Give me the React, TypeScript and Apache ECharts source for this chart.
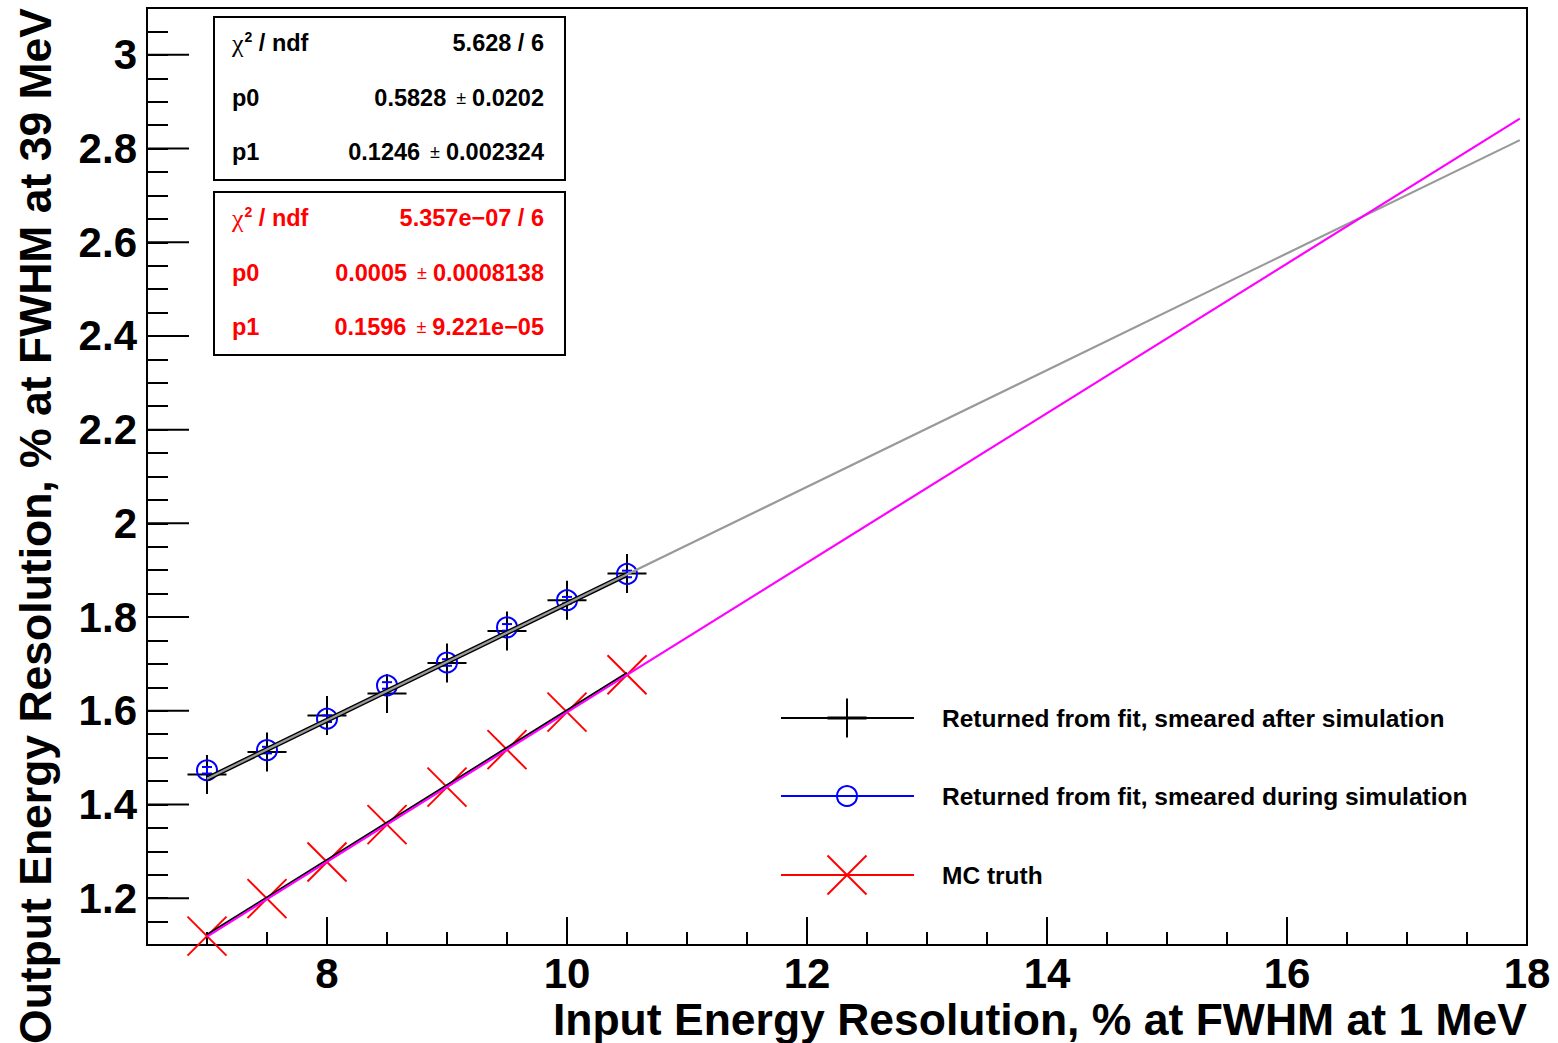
import React, { useEffect, useRef } from "react";
import * as echarts from "echarts";

// ---- axis ranges & ticks ----
const X_MIN = 6.5;
const X_MAX = 18;
const Y_MIN = 1.1;
const Y_MAX = 3.1;
const xTickLabels = [8, 10, 12, 14, 16, 18];
const yTickLabels = [1.2, 1.4, 1.6, 1.8, 2, 2.2, 2.4, 2.6, 2.8, 3];

// ---- data ----
const xInput = [7, 7.5, 8, 8.5, 9, 9.5, 10, 10.5];
const yAfter = [1.464, 1.512, 1.59, 1.637, 1.702, 1.77, 1.836, 1.893];
const yDuring = [1.473, 1.516, 1.583, 1.654, 1.703, 1.778, 1.836, 1.892];
const yDuringErr = [0.007, 0.007, 0.007, 0.007, 0.007, 0.007, 0.007, 0.007];
const yTruth = [1.119, 1.199, 1.277, 1.357, 1.437, 1.517, 1.597, 1.677];

// fit lines (end points)
const fitAfterX = [7, 17.94];
const fitAfterY = [1.455, 2.818];
const fitAfterShortX = [7, 10.5];
const fitAfterShortY = [1.455, 1.891];
const fitTruthX = [7, 17.94];
const fitTruthY = [1.118, 2.864];
const fitTruthShortX = [7, 10.5];
const fitTruthShortY = [1.122, 1.681];

// stats boxes
const statsBlack = [
  ["χ2 / ndf", "5.628 / 6", ""],
  ["p0", "0.5828", "0.0202"],
  ["p1", "0.1246", "0.002324"],
];
const statsRed = [
  ["χ2 / ndf", "5.357e−07 / 6", ""],
  ["p0", "0.0005", "0.0008138"],
  ["p1", "0.1596", "9.221e−05"],
];

const legendLabels = [
  "Returned from fit, smeared after simulation",
  "Returned from fit, smeared during simulation",
  "MC truth",
];

const FONT = "Liberation Sans";

const pairs = (xs: number[], ys: number[]) => xs.map((x, i) => [x, ys[i]]);

function statsBox(rows: string[][], top: number, color: string) {
  const left = 214;
  const w = 351;
  const h = 163;
  const children: any[] = [
    {
      type: "rect",
      shape: { x: left, y: top, width: w, height: h },
      style: { fill: "#fff", stroke: "#000", lineWidth: 2 },
    },
  ];
  const rowH = h / 3;
  const rich = {
    c: { fontFamily: "Liberation Serif", fontSize: 26, fill: color, color },
    s: { fontFamily: FONT, fontWeight: "bold", fontSize: 14, fill: color, color, verticalAlign: "top", padding: [0, 0, 0, 1] },
    b: { fontFamily: FONT, fontWeight: "bold", fontSize: 23.5, fill: color, color },
    pm: { fontFamily: FONT, fontSize: 18, fill: color, color, padding: [0, 6, 0, 10] },
  };
  rows.forEach((r, i) => {
    const cy = top + rowH * i + rowH / 2 - 1;
    const labelText = r[0].startsWith("χ2")
      ? "{c|χ}{s|2}{b|" + r[0].slice(2) + "}"
      : "{b|" + r[0] + "}";
    children.push({
      type: "text",
      x: left + 18,
      y: cy,
      style: { text: labelText, rich, align: "left", verticalAlign: "middle" },
    });
    const valText = r[2] ? "{b|" + r[1] + "}{pm|±}{b|" + r[2] + "}" : "{b|" + r[1] + "}";
    children.push({
      type: "text",
      x: left + w - 21,
      y: cy,
      style: { text: valText, rich, align: "right", verticalAlign: "middle" },
    });
  });
  return { type: "group", children };
}

function legendGraphics() {
  const rows = [718, 796, 875];
  const x1 = 781;
  const x2 = 914;
  const mx = 847;
  const h = 19.5;
  const els: any[] = [];
  // black
  els.push({ type: "line", shape: { x1, y1: rows[0], x2, y2: rows[0] }, style: { stroke: "#000", lineWidth: 2 } });
  els.push({ type: "line", shape: { x1: mx - h, y1: rows[0], x2: mx + h, y2: rows[0] }, style: { stroke: "#000", lineWidth: 3 } });
  els.push({ type: "line", shape: { x1: mx, y1: rows[0] - h, x2: mx, y2: rows[0] + h }, style: { stroke: "#000", lineWidth: 2 } });
  // blue
  els.push({ type: "line", shape: { x1, y1: rows[1], x2, y2: rows[1] }, style: { stroke: "#0000ff", lineWidth: 2 } });
  els.push({ type: "circle", shape: { cx: mx, cy: rows[1], r: 10 }, style: { fill: "none", stroke: "#0000ff", lineWidth: 2 } });
  // red
  els.push({ type: "line", shape: { x1, y1: rows[2], x2, y2: rows[2] }, style: { stroke: "#ff0000", lineWidth: 2 } });
  els.push({ type: "line", shape: { x1: mx - h, y1: rows[2] - h, x2: mx + h, y2: rows[2] + h }, style: { stroke: "#ff0000", lineWidth: 2 } });
  els.push({ type: "line", shape: { x1: mx - h, y1: rows[2] + h, x2: mx + h, y2: rows[2] - h }, style: { stroke: "#ff0000", lineWidth: 2 } });
  legendLabels.forEach((t, i) => {
    els.push({
      type: "text",
      x: 942,
      y: rows[i],
      style: { text: t, fontFamily: FONT, fontWeight: "bold", fontSize: 24.5, fill: "#000", align: "left", verticalAlign: "middle" },
    });
  });
  return { type: "group", children: els };
}

function isIn(v: number, arr: number[]) {
  return arr.some((a) => Math.abs(a - v) < 1e-6);
}

export default function App() {
  const ref = useRef<HTMLDivElement>(null);
  useEffect(() => {
    document.body.style.margin = "0";
    const chart = echarts.init(ref.current!, null, { renderer: "svg" });
    const axisFont = { fontFamily: FONT, fontWeight: "bold" as const, fontSize: 42, color: "#000" };
    const option: any = {
      animation: false,
      backgroundColor: "#fff",
      grid: {
        left: 147,
        right: 31,
        top: 8,
        bottom: 98,
        show: true,
        borderColor: "#000",
        borderWidth: 2,
        backgroundColor: "transparent",
      },
      xAxis: {
        type: "value",
        min: X_MIN,
        max: X_MAX,
        interval: 0.5,
        axisLine: { show: true, lineStyle: { color: "#000", width: 2 } },
        axisTick: { show: true, inside: true, length: 13, lineStyle: { color: "#000", width: 2 } },
        axisLabel: {
          ...axisFont,
          margin: 7,
          formatter: (v: number) => (isIn(v, xTickLabels) ? String(v) : ""),
        },
        splitLine: { show: false },
      },
      yAxis: {
        type: "value",
        min: Y_MIN,
        max: Y_MAX,
        interval: 0.05,
        axisLine: { show: true, lineStyle: { color: "#000", width: 2 } },
        axisTick: { show: true, inside: true, length: 21, lineStyle: { color: "#000", width: 2 } },
        axisLabel: {
          ...axisFont,
          margin: 10,
          formatter: (v: number) => (isIn(v, yTickLabels) ? String(Math.round(v * 10) / 10) : ""),
        },
        splitLine: { show: false },
      },
      series: [
        // long major ticks (x)
        {
          type: "custom",
          silent: true,
          clip: false,
          data: xTickLabels.map((v) => [v, Y_MIN]),
          renderItem: (_p: any, api: any) => {
            const a = api.coord([api.value(0), Y_MIN]);
            return { type: "line", shape: { x1: a[0], y1: a[1], x2: a[0], y2: a[1] - 28 }, style: { stroke: "#000", lineWidth: 2 } };
          },
        },
        // long major ticks (y)
        {
          type: "custom",
          silent: true,
          clip: false,
          data: yTickLabels.map((v) => [X_MIN, v]),
          renderItem: (_p: any, api: any) => {
            const a = api.coord([X_MIN, api.value(1)]);
            return { type: "line", shape: { x1: a[0], y1: a[1], x2: a[0] + 42, y2: a[1] }, style: { stroke: "#000", lineWidth: 2 } };
          },
        },
        // fit lines
        {
          type: "line",
          silent: true,
          showSymbol: false,
          data: pairs(fitAfterShortX, fitAfterShortY),
          lineStyle: { color: "#000", width: 5 },
        },
        {
          type: "line",
          silent: true,
          showSymbol: false,
          data: pairs(fitAfterX, fitAfterY),
          lineStyle: { color: "#999999", width: 2.2 },
        },
        {
          type: "line",
          silent: true,
          showSymbol: false,
          data: pairs(fitTruthShortX, fitTruthShortY),
          lineStyle: { color: "#000", width: 2 },
        },
        {
          type: "line",
          silent: true,
          showSymbol: false,
          data: pairs(fitTruthX, fitTruthY),
          lineStyle: { color: "#ff00ff", width: 2.2 },
        },
        // black + markers
        {
          type: "custom",
          silent: true,
          data: pairs(xInput, yAfter),
          renderItem: (_p: any, api: any) => {
            const c = api.coord([api.value(0), api.value(1)]);
            const h = 19.5;
            return {
              type: "group",
              children: [
                { type: "line", shape: { x1: c[0] - h, y1: c[1], x2: c[0] + h, y2: c[1] }, style: { stroke: "#000", lineWidth: 2 } },
                { type: "line", shape: { x1: c[0], y1: c[1] - h, x2: c[0], y2: c[1] + h }, style: { stroke: "#000", lineWidth: 2 } },
              ],
            };
          },
        },
        // blue circles with small error bars
        {
          type: "custom",
          silent: true,
          data: xInput.map((x, i) => [x, yDuring[i], yDuringErr[i]]),
          renderItem: (_p: any, api: any) => {
            const x = api.value(0);
            const y = api.value(1);
            const e = api.value(2);
            const c = api.coord([x, y]);
            const lo = api.coord([x, y - e]);
            const hi = api.coord([x, y + e]);
            const st = { stroke: "#0000ff", lineWidth: 2 };
            return {
              type: "group",
              children: [
                { type: "line", shape: { x1: c[0], y1: lo[1], x2: c[0], y2: hi[1] }, style: st },
                { type: "line", shape: { x1: c[0] - 5, y1: lo[1], x2: c[0] + 5, y2: lo[1] }, style: st },
                { type: "line", shape: { x1: c[0] - 5, y1: hi[1], x2: c[0] + 5, y2: hi[1] }, style: st },
                { type: "circle", shape: { cx: c[0], cy: c[1], r: 10 }, style: { fill: "none", stroke: "#0000ff", lineWidth: 2 } },
              ],
            };
          },
        },
        // red X markers
        {
          type: "custom",
          silent: true,
          clip: false,
          data: pairs(xInput, yTruth),
          renderItem: (_p: any, api: any) => {
            const c = api.coord([api.value(0), api.value(1)]);
            const h = 19.5;
            const st = { stroke: "#ff0000", lineWidth: 2 };
            return {
              type: "group",
              children: [
                { type: "line", shape: { x1: c[0] - h, y1: c[1] - h, x2: c[0] + h, y2: c[1] + h }, style: st },
                { type: "line", shape: { x1: c[0] - h, y1: c[1] + h, x2: c[0] + h, y2: c[1] - h }, style: st },
              ],
            };
          },
        },
      ],
      graphic: [
        statsBox(statsBlack, 17, "#000"),
        statsBox(statsRed, 192, "#ff0000"),
        legendGraphics(),
        {
          type: "text",
          x: 1527,
          y: 1019,
          style: {
            text: "Input Energy Resolution, % at FWHM at 1 MeV",
            fontFamily: FONT,
            fontWeight: "bold",
            fontSize: 44.5,
            fill: "#000",
            align: "right",
            verticalAlign: "middle",
          },
        },
        {
          type: "text",
          x: 35,
          y: 8,
          rotation: Math.PI / 2,
          style: {
            text: "Output Energy Resolution, % at FWHM at 39 MeV",
            fontFamily: FONT,
            fontWeight: "bold",
            fontSize: 44.5,
            fill: "#000",
            align: "right",
            verticalAlign: "middle",
          },
        },
      ],
    };
    chart.setOption(option);
    return () => chart.dispose();
  }, []);
  return <div ref={ref} style={{ width: 1558, height: 1043 }} />;
}
